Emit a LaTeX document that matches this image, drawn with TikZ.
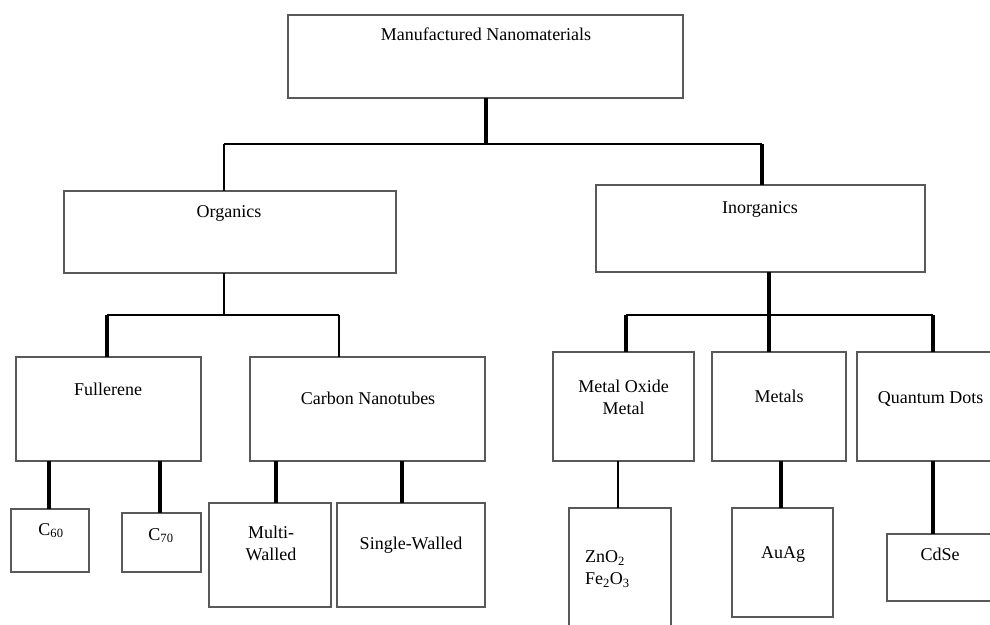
\documentclass[tikz,border=0pt]{standalone}
\usepackage{fontspec}
\setmainfont{Liberation Serif}
\begin{document}
\begin{tikzpicture}[x=1pt,y=-1pt,
  box/.style={draw=black!65, line width=1.3pt, rectangle, inner sep=0pt, outer sep=0pt},
  lbl/.style={inner sep=0pt, outer sep=0pt, font=\fontsize{18}{22}\selectfont, text=black},
  wide/.style={line width=3.6pt, black},
  mid/.style={line width=2.6pt, black},
  thin/.style={line width=2pt, black}]
\clip (0,0) rectangle (990,624);
% boxes
\node[box, minimum width=395pt, minimum height=83pt] (top) at (485.5,56.5) {};
\node[box, minimum width=332pt, minimum height=82pt] (org) at (230,232) {};
\node[box, minimum width=329pt, minimum height=87pt] (inorg) at (760.5,228.5) {};
\node[box, minimum width=185pt, minimum height=104pt] (ful) at (108.5,409) {};
\node[box, minimum width=235pt, minimum height=104pt] (cnt) at (367.5,409) {};
\node[box, minimum width=78pt, minimum height=63pt] (c60) at (50,540.5) {};
\node[box, minimum width=79pt, minimum height=59pt] (c70) at (161.5,542.5) {};
\node[box, minimum width=122pt, minimum height=104pt] (mw) at (270,555) {};
\node[box, minimum width=148pt, minimum height=104pt] (sw) at (411,555) {};
\node[box, minimum width=141pt, minimum height=109pt] (mo) at (623.5,406.5) {};
\node[box, minimum width=134pt, minimum height=109pt] (met) at (779,406.5) {};
\node[box, minimum width=148pt, minimum height=109pt] (qd) at (931,406.5) {};
\node[box, minimum width=102pt, minimum height=132pt] (zn) at (620,574) {};
\node[box, minimum width=101pt, minimum height=109pt] (au) at (782.5,562.5) {};
\node[box, minimum width=118pt, minimum height=67pt] (cd) at (946,567.5) {};
% labels
\node[lbl, anchor=base] (tTop) at (486,40) {Manufactured Nanomaterials};
\node[lbl, anchor=base] (tOrg) at (229,217) {Organics};
\node[lbl, anchor=base] (tInorg) at (760,213) {Inorganics};
\node[lbl, anchor=base] (tFul) at (108,395) {Fullerene};
\node[lbl, anchor=base] (tCnt) at (368,404) {Carbon Nanotubes};
\node[lbl, anchor=base] (tC60) at (51,535) {C\textsubscript{60}};
\node[lbl, anchor=base] (tC70) at (161,540) {C\textsubscript{70}};
\node[lbl, anchor=north, align=center] (tMw) at (271,526) {Multi-\\Walled};
\node[lbl, anchor=base] (tSw) at (411,549) {Single-Walled};
\node[lbl, anchor=north, align=center] (tMo) at (623.5,380) {Metal Oxide\\Metal};
\node[lbl, anchor=base] (tMet) at (779,402) {Metals};
\node[lbl, anchor=base] (tQd) at (930.5,403) {Quantum Dots};
\node[lbl, anchor=north west, align=left] (tZn) at (585,551) {ZnO\textsubscript{2}\\Fe\textsubscript{2}O\textsubscript{3}};
\node[lbl, anchor=base] (tAu) at (783,558) {AuAg};
\node[lbl, anchor=base] (tCd) at (940,560) {CdSe};
% junction coordinates
\coordinate (j0) at (486,144);
\coordinate (jl) at (224,144);
\coordinate (jr) at (762,144);
\coordinate (o1) at (224,315);
\coordinate (ol) at (107,315);
\coordinate (or) at (339,315);
\coordinate (i1) at (769,315);
\coordinate (il) at (626,315);
\coordinate (ir) at (933,315);
\coordinate (f1) at (49,480);
\coordinate (f2) at (160,480);
\coordinate (n1) at (276,480);
\coordinate (n2) at (402,480);
\coordinate (m1) at (618,480);
\coordinate (m2) at (781,480);
\coordinate (m3) at (933,480);
% connectors
\draw[wide] (top.south -| j0) -- (j0);
\draw[thin] (jl) -- (jr);
\draw[thin] (jl) -- (jl |- org.north);
\draw[wide] (jr) -- (jr |- inorg.north);
\draw[thin] (org.south -| o1) -- (o1);
\draw[mid] (ol) -- (or);
\draw[wide] (ol) -- (ol |- ful.north);
\draw[thin] (or) -- (or |- cnt.north);
\draw[wide] (inorg.south -| i1) -- (i1);
\draw[mid] (il) -- (ir);
\draw[wide] (il) -- (il |- mo.north);
\draw[wide] (i1) -- (i1 |- met.north);
\draw[wide] (ir) -- (ir |- qd.north);
\draw[wide] (ful.south -| f1) -- (c60.north -| f1);
\draw[wide] (ful.south -| f2) -- (c70.north -| f2);
\draw[wide] (cnt.south -| n1) -- (mw.north -| n1);
\draw[wide] (cnt.south -| n2) -- (sw.north -| n2);
\draw[thin] (mo.south -| m1) -- (zn.north -| m1);
\draw[wide] (met.south -| m2) -- (au.north -| m2);
\draw[wide] (qd.south -| m3) -- (cd.north -| m3);
\end{tikzpicture}
\end{document}
